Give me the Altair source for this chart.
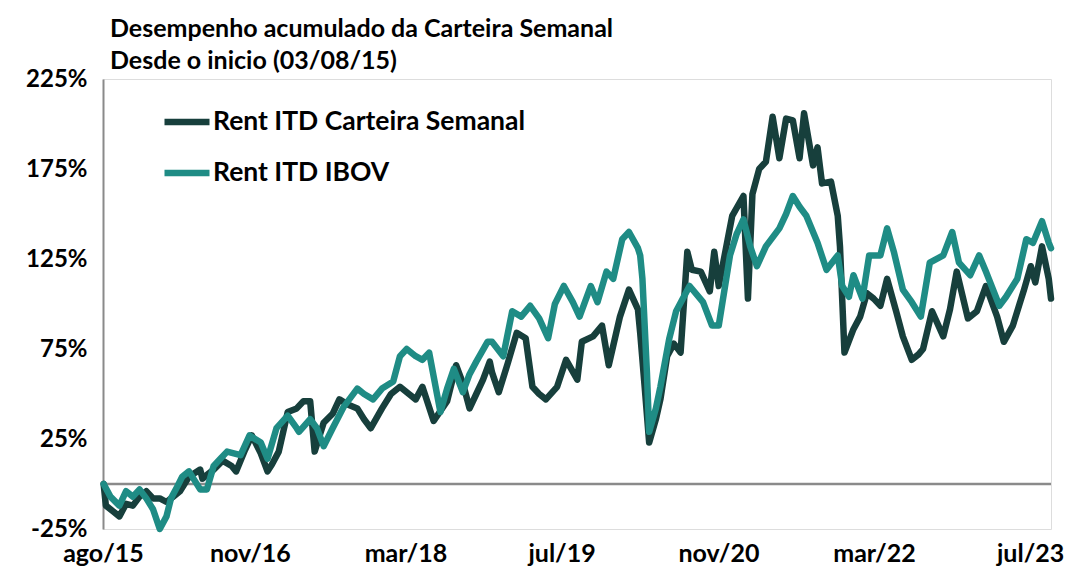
import altair as alt
import pandas as pd

START = "2015-08-03"

# weeks since start (weekly data) and cumulative return in %
carteira_weeks = [0, 1, 4, 7, 10, 13, 16, 19, 22, 25, 28, 31, 34, 38, 43, 44, 49, 53, 57, 59,
                  63, 66, 70, 73, 75, 78, 82, 86, 89, 92, 94, 98, 102, 105, 109, 113, 116, 119, 124, 128,
                  132, 136, 139, 142, 147, 153, 157, 160, 163, 166, 169, 172, 173, 176, 180, 184, 188, 191, 194, 197,
                  202, 206, 211, 213, 218, 222, 225, 230, 234, 238, 239, 241, 243, 246, 248, 251, 254, 257, 260, 262,
                  266, 270, 272, 274, 278, 280, 285, 287, 289, 292, 295, 298, 301, 304, 307, 310, 312, 316, 318, 320,
                  324, 327, 328, 330, 334, 337, 340, 343, 346, 349, 353, 356, 360, 363, 365, 369, 374, 377, 380, 385,
                  389, 393, 398, 401, 405, 410, 413, 415, 418, 421, 422]
carteira_vals = [0, -12, -15, -18, -11, -12, -7, -4, -8, -8, -10, -7, -4, 4, 8, 3, 8, 13, 10, 7,
                 19, 27, 17, 7, 11, 18, 40, 42, 46, 46, 18, 34, 39, 47, 44, 42, 36, 31, 42, 50,
                 54, 50, 47, 54, 35, 46, 66, 56, 42, 50, 58, 68, 62, 51, 67, 84, 81, 54, 50, 47,
                 54, 69, 58, 79, 82, 88, 66, 93, 108, 97, 84, 54, 23, 36, 47, 71, 78, 73, 129, 119,
                 118, 107, 129, 110, 136, 149, 160, 103, 161, 175, 179, 204, 181, 203, 202, 181, 206, 177, 187, 167,
                 168, 149, 132, 73, 86, 93, 106, 103, 99, 114, 96, 82, 69, 72, 75, 96, 82, 97, 118, 92,
                 96, 110, 93, 79, 88, 108, 121, 112, 132, 114, 103]

ibov_weeks = [0, 3, 7, 10, 13, 16, 19, 22, 25, 28, 30, 33, 35, 38, 43, 46, 49, 52, 55, 61,
              65, 70, 73, 77, 82, 86, 87, 92, 95, 98, 102, 107, 113, 116, 120, 124, 129, 132, 135, 139,
              142, 145, 150, 153, 156, 160, 163, 166, 171, 173, 178, 182, 186, 190, 194, 198, 201, 205, 209, 212,
              217, 220, 224, 227, 231, 234, 238, 239, 240, 242, 243, 246, 248, 252, 255, 258, 261, 267, 271, 274,
              279, 282, 285, 288, 291, 295, 301, 304, 307, 310, 313, 318, 322, 327, 329, 332, 334, 338, 341, 346,
              349, 352, 356, 360, 364, 368, 374, 378, 381, 386, 390, 393, 399, 402, 407, 411, 414, 418, 421, 422]
ibov_vals = [0, -7, -12, -4, -7, -3, -8, -14, -25, -18, -8, -1, 4, 7, -3, -3, 10, 14, 18, 16,
             27, 23, 14, 31, 38, 31, 29, 36, 31, 21, 31, 43, 53, 50, 47, 53, 57, 71, 75, 71,
             69, 73, 40, 53, 64, 51, 61, 68, 79, 79, 71, 96, 93, 99, 92, 81, 100, 110, 101, 93,
             110, 101, 118, 114, 136, 140, 131, 127, 114, 62, 29, 42, 54, 81, 96, 103, 110, 101, 88, 88,
             127, 139, 147, 132, 121, 132, 142, 150, 160, 154, 149, 134, 119, 127, 110, 104, 116, 103, 127, 127,
             142, 129, 108, 101, 93, 123, 127, 140, 123, 116, 127, 118, 99, 104, 114, 136, 134, 146, 134, 131]

series_names = ["Rent ITD Carteira Semanal", "Rent ITD IBOV"]
series_colors = ["#173f3c", "#1f8c85"]
y_ticks = [-25, 25, 75, 125, 175, 225]
x_ticks = [(2015, 8), (2016, 11), (2018, 3), (2019, 7), (2020, 11), (2022, 3), (2023, 7)]
title_lines = ["Desempenho acumulado da Carteira Semanal", "Desde o inicio (03/08/15)"]

start = pd.Timestamp(START)


def frame(weeks, vals, name):
    return pd.DataFrame({
        "date": [(start + pd.Timedelta(weeks=w)).strftime("%Y-%m-%dT00:00:00") for w in weeks],
        "value": vals,
        "serie": name,
    })


df_c = frame(carteira_weeks, carteira_vals, series_names[0])
df_i = frame(ibov_weeks, ibov_vals, series_names[1])

FONT = "Lato"
x_scale = alt.Scale(domain=[alt.DateTime(year=2015, month=8, date=1),
                            alt.DateTime(year=2023, month=9, date=4)])
y_scale = alt.Scale(domain=[-25, 225], nice=False, zero=False)

month_expr = ("['jan','fev','mar','abr','mai','jun','jul','ago','set','out','nov','dez']"
              "[month(datum.value)] + '/' + timeFormat(datum.value, '%y')")

x_axis = alt.Axis(values=[alt.DateTime(year=y, month=m, date=1) for y, m in x_ticks],
                  labelExpr=month_expr, domain=False, ticks=False, grid=False, title=None,
                  labelFont=FONT, labelFontSize=25, labelFontWeight="bold", labelColor="black",
                  labelPadding=12, labelAlign="center", labelBaseline="top",
                  labelFlush=False, labelOverlap=False)
y_axis = alt.Axis(values=y_ticks, labelExpr="datum.value + '%'", grid=False, ticks=False,
                  domain=True, domainColor="#8a8a8a", domainWidth=2, title=None,
                  labelFont=FONT, labelFontSize=24, labelFontWeight="bold", labelColor="black",
                  labelPadding=16, labelFlush=False, labelOverlap=False)

color = alt.Color("serie:N",
                  scale=alt.Scale(domain=series_names, range=series_colors),
                  legend=alt.Legend(orient="none", legendX=58, legendY=17, title=None,
                                    symbolType="stroke", symbolSize=2025, symbolStrokeWidth=6.5,
                                    labelFont=FONT, labelFontSize=26.5, labelFontWeight="bold",
                                    labelColor="black", rowPadding=11, labelOffset=0, padding=0,
                                    labelLimit=600))

zero = alt.Chart(pd.DataFrame({"v": [0]})).mark_rule(color="#8a8a8a", strokeWidth=2.5).encode(
    y=alt.Y("v:Q", scale=y_scale, axis=y_axis))


def line(df):
    return alt.Chart(df).mark_line(strokeWidth=6.5, strokeCap="round", strokeJoin="round").encode(
        x=alt.X("date:T", scale=x_scale, axis=x_axis),
        y=alt.Y("value:Q", scale=y_scale, axis=y_axis),
        color=color,
    )


chart = alt.layer(zero, line(df_c), line(df_i)).properties(
    width=948, height=450,
    padding={"left": 95, "top": 71, "right": 20, "bottom": 38},
    autosize=alt.AutoSizeParams(type="none"),
    title=alt.TitleParams(text=title_lines, anchor="start", frame="group", font=FONT,
                          fontSize=25, fontWeight="bold", color="black", dx=7, offset=-7,
                          lineHeight=32),
).configure_view(stroke=None).configure(background="white")

chart.save("out.html", embed_options={"renderer": "svg", "actions": False})
